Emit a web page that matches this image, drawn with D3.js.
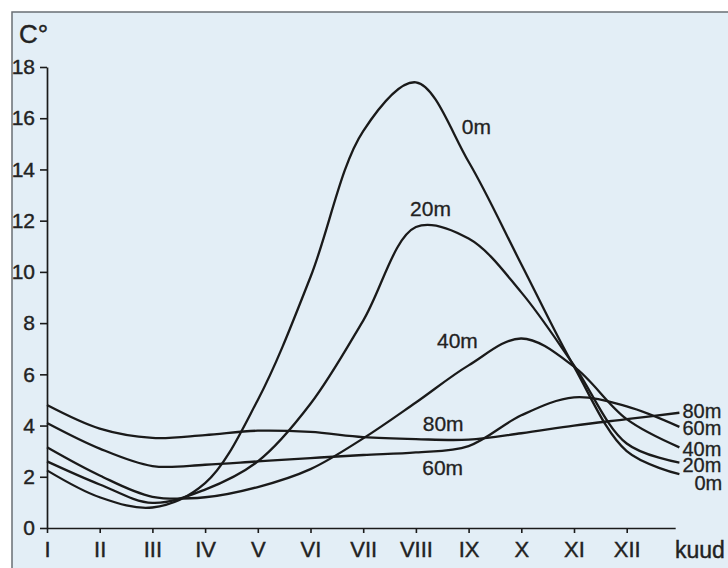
<!DOCTYPE html>
<html>
<head>
<meta charset="utf-8">
<script src="https://cdn.jsdelivr.net/npm/d3@7"></script>
<style>
  html, body { margin: 0; padding: 0; background: #ffffff; }
  svg { display: block; font-family: "Liberation Sans", Arial, Helvetica, sans-serif; }
</style>
</head>
<body>
<svg id="chart" width="728" height="568"></svg>
<script>
// months I..XII plus the following January (13)
const months = [1, 2, 3, 4, 5, 6, 7, 8, 9, 10, 11, 12, 13];
const monthLabels = ["I", "II", "III", "IV", "V", "VI", "VII", "VIII", "IX", "X", "XI", "XII"];
const yTicks = [0, 2, 4, 6, 8, 10, 12, 14, 16, 18];
const depths = ["0m", "20m", "40m", "60m", "80m"];

// water temperature (C°) by month
const temp0m  = [2.25, 1.2, 0.8, 1.75, 5.0, 9.8, 15.5, 17.4, 14.3, 10.3, 6.3, 3.0, 2.1];
const temp20m = [2.6, 1.7, 0.98, 1.5, 2.6, 4.85, 8.1, 11.75, 11.3, 9.2, 6.35, 3.3, 2.55];
const temp40m = [3.15, 2.05, 1.22, 1.2, 1.6, 2.3, 3.5, 4.9, 6.35, 7.4, 6.3, 4.25, 3.15];
const temp60m = [4.1, 3.1, 2.42, 2.47, 2.6, 2.73, 2.85, 2.95, 3.2, 4.4, 5.1, 4.75, 3.95];
const temp80m = [4.8, 3.88, 3.52, 3.63, 3.8, 3.75, 3.55, 3.47, 3.45, 3.7, 4.0, 4.25, 4.5];

const seriesValues = [temp0m, temp20m, temp40m, temp60m, temp80m];

const svg = d3.select("#chart");
const ink = "#1a1a1a";

// paper background and frame
svg.append("rect").attr("x", 12).attr("y", 12).attr("width", 728).attr("height", 568)
  .attr("fill", "#e3eef6").attr("stroke", "#6a6f74").attr("stroke-width", 1.5);

const x = d3.scaleLinear().domain([1, 13]).range([47, 679.4]);
const y = d3.scaleLinear().domain([0, 18]).range([528, 67]);

// x axis stops a little short of month 13
const xAxisScale = x.copy().domain([1, 12.92]).range([x(1), x(12.92)]);

const gx = svg.append("g")
  .attr("transform", `translate(0,${y(0)})`)
  .call(d3.axisBottom(xAxisScale)
    .tickValues(months.slice(0, 12))
    .tickFormat((d, i) => monthLabels[i])
    .tickSize(5)
    .tickSizeOuter(0)
    .tickPadding(8));

const gy = svg.append("g")
  .attr("transform", `translate(${x(1)},0)`)
  .call(d3.axisLeft(y)
    .tickValues(yTicks)
    .tickSize(7)
    .tickSizeOuter(0)
    .tickPadding(5));

[gx, gy].forEach((g) => {
  g.select(".domain").attr("stroke", ink).attr("stroke-width", 1.7);
  g.selectAll(".tick line").attr("stroke", ink).attr("stroke-width", 1.6);
  g.selectAll(".tick text")
    .attr("fill", "#222").attr("stroke", "#222").attr("stroke-width", 0.4)
    .style("font-size", "21px");
});
gx.selectAll(".tick text").style("font-size", "22px");

// axis titles
svg.append("text").attr("x", 19).attr("y", 43)
  .attr("fill", "#222").attr("stroke", "#222").attr("stroke-width", 0.4)
  .style("font-size", "26px").text("C°");
svg.append("text").attr("x", 675).attr("y", 558)
  .attr("fill", "#222").attr("stroke", "#222").attr("stroke-width", 0.4)
  .style("font-size", "23px").text("kuud");

// curves
const line = d3.line()
  .x((d, i) => x(months[i]))
  .y((d) => y(d))
  .curve(d3.curveCatmullRom.alpha(0.5));

svg.append("g").selectAll("path")
  .data(seriesValues)
  .join("path")
  .attr("fill", "none")
  .attr("stroke", ink)
  .attr("stroke-width", 2.3)
  .attr("stroke-linejoin", "round")
  .attr("d", line);

// labels inside the plot (month, temperature of the text start / baseline)
const inlinePos = [[8.87, 15.4], [7.89, 12.2], [8.4, 7.03], [8.12, 2.07], [8.13, 3.79]];
svg.append("g").selectAll("text")
  .data(depths)
  .join("text")
  .attr("x", (d, i) => x(inlinePos[i][0]))
  .attr("y", (d, i) => y(inlinePos[i][1]))
  .attr("fill", "#222").attr("stroke", "#222").attr("stroke-width", 0.3)
  .style("font-size", "21px")
  .text((d) => d);

// labels at the right end of each curve
const endShift = [[15, 9], [3, 2], [3, 1], [3, 1], [3, -2]];
svg.append("g").selectAll("text")
  .data(depths)
  .join("text")
  .attr("x", (d, i) => x(13) + endShift[i][0])
  .attr("y", (d, i) => y(seriesValues[i][12]) + endShift[i][1])
  .attr("dy", "0.36em")
  .attr("fill", "#222").attr("stroke", "#222").attr("stroke-width", 0.3)
  .style("font-size", "20px")
  .text((d) => d);
</script>
</body>
</html>
